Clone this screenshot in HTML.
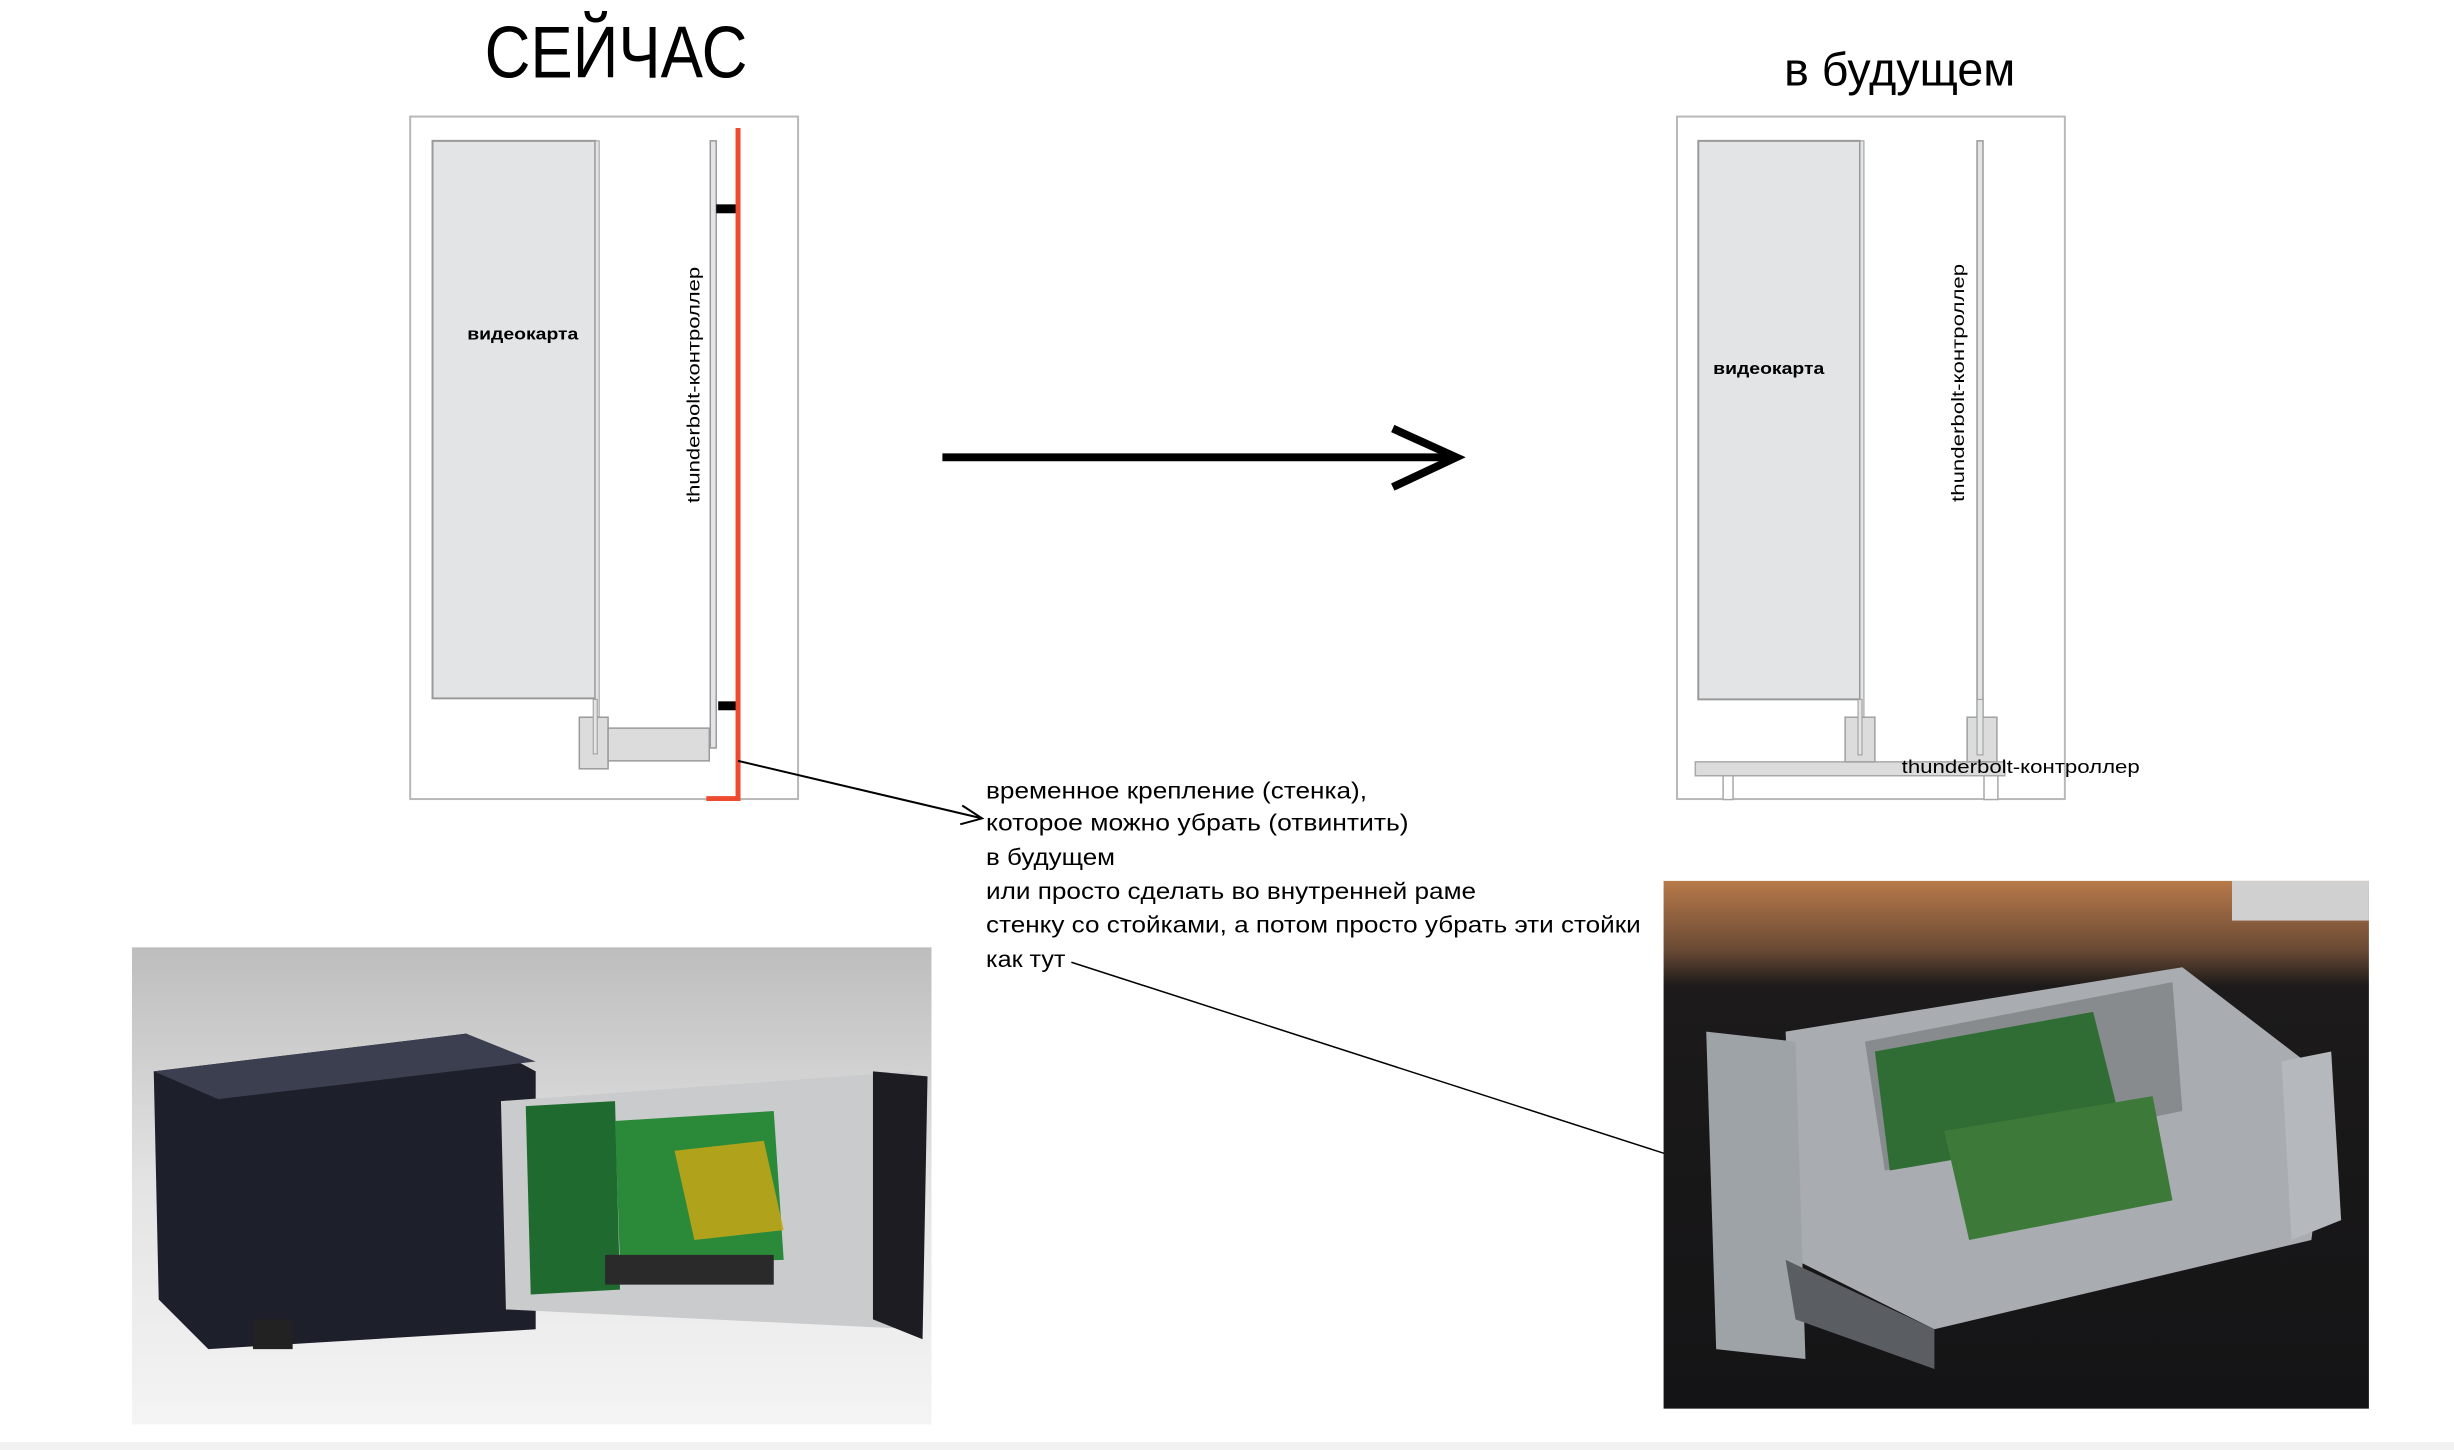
<!DOCTYPE html>
<html><head><meta charset="utf-8"><style>html,body{margin:0;padding:0;background:#fff}svg{display:block}</style></head>
<body>
<svg width="2454" height="1450" viewBox="0 0 2454 1450" xmlns="http://www.w3.org/2000/svg" font-family="'Liberation Sans','DejaVu Sans',sans-serif">
<defs>
<linearGradient id="lbg" x1="0" y1="0" x2="0" y2="1"><stop offset="0" stop-color="#bdbdbd"/><stop offset="0.5" stop-color="#e4e4e4"/><stop offset="1" stop-color="#f4f4f4"/></linearGradient>
<linearGradient id="rbg" x1="0" y1="0" x2="0" y2="1"><stop offset="0" stop-color="#b87a4a"/><stop offset="0.13" stop-color="#6a4a35"/><stop offset="0.2" stop-color="#1c1a1a"/><stop offset="1" stop-color="#141416"/></linearGradient>
</defs>
<rect x="0" y="1442" width="2454" height="8" fill="#f2f2f2"/>
<g transform="scale(0.992)">
<!-- LEFT DIAGRAM -->
<text x="621" y="78" font-size="74" text-anchor="middle" textLength="265" lengthAdjust="spacingAndGlyphs">СЕЙЧАС</text>
<rect x="413.5" y="117.5" width="391" height="688" fill="none" stroke="#b8b8b8" stroke-width="2"/>
<rect x="436" y="142" width="164" height="562" fill="#e3e4e6" stroke="#9a9a9a" stroke-width="2"/>
<rect x="600" y="142" width="4" height="615" fill="#e3e4e6" stroke="#9a9a9a" stroke-width="1"/>
<text x="527" y="342" font-size="17" text-anchor="middle" font-weight="bold" textLength="112" lengthAdjust="spacingAndGlyphs">видеокарта</text>
<rect x="716" y="142" width="6" height="612" fill="#e3e4e6" stroke="#9a9a9a" stroke-width="1.5"/>
<text transform="translate(705,388) rotate(-90)" font-size="18" text-anchor="middle" textLength="238" lengthAdjust="spacingAndGlyphs">thunderbolt-контроллер</text>
<rect x="722" y="206" width="21" height="9" fill="#000"/>
<rect x="724" y="707" width="19" height="9" fill="#000"/>
<rect x="584" y="723" width="29" height="52" fill="#dcdcdc" stroke="#9a9a9a" stroke-width="1.5"/>
<rect x="613" y="734" width="102" height="33" fill="#dcdcdc" stroke="#9a9a9a" stroke-width="1.5"/>
<rect x="598" y="705" width="4" height="55" fill="#e3e4e6" stroke="#9a9a9a" stroke-width="1"/>
<path d="M744 129 V805 H712" fill="none" stroke="#ee4a30" stroke-width="5"/>
<line x1="744" y1="767" x2="990" y2="825" stroke="#000" stroke-width="2"/>
<path d="M970 812 L990 825 L968 831" fill="none" stroke="#000" stroke-width="2"/>

<!-- BIG ARROW -->
<line x1="950" y1="461" x2="1466" y2="461" stroke="#000" stroke-width="8"/>
<path d="M1404 432 L1468 461 L1404 491" fill="none" stroke="#000" stroke-width="8"/>

<!-- RIGHT DIAGRAM -->
<text x="1915" y="86" font-size="48" text-anchor="middle" textLength="233" lengthAdjust="spacingAndGlyphs">в будущем</text>
<rect x="1690.5" y="117.5" width="391" height="688" fill="none" stroke="#b8b8b8" stroke-width="2"/>
<rect x="1712" y="142" width="163" height="563" fill="#e3e4e6" stroke="#9a9a9a" stroke-width="2"/>
<rect x="1875" y="142" width="4" height="612" fill="#e3e4e6" stroke="#9a9a9a" stroke-width="1"/>
<text x="1783" y="377" font-size="17" text-anchor="middle" font-weight="bold" textLength="112" lengthAdjust="spacingAndGlyphs">видеокарта</text>
<rect x="1993" y="142" width="6" height="612" fill="#e3e4e6" stroke="#9a9a9a" stroke-width="1.5"/>
<text transform="translate(1980,386) rotate(-90)" font-size="18" text-anchor="middle" textLength="240" lengthAdjust="spacingAndGlyphs">thunderbolt-контроллер</text>
<rect x="1709" y="768" width="312" height="14" fill="#dcdcdc" stroke="#a8a8a8" stroke-width="1.5"/>
<rect x="1860" y="723" width="30" height="45" fill="#dcdcdc" stroke="#a0a0a0" stroke-width="1.5"/>
<rect x="1983" y="723" width="30" height="45" fill="#dcdcdc" stroke="#a0a0a0" stroke-width="1.5"/>
<rect x="1873" y="705" width="4" height="56" fill="#e3e4e6" stroke="#9a9a9a" stroke-width="1"/>
<rect x="1993" y="705" width="6" height="56" fill="#e3e4e6" stroke="#9a9a9a" stroke-width="1"/>
<rect x="1737" y="782" width="10" height="24" fill="#fff" stroke="#a8a8a8" stroke-width="1.5"/>
<rect x="2000" y="782" width="14" height="24" fill="#fff" stroke="#a8a8a8" stroke-width="1.5"/>
<text x="1917" y="779" font-size="19" textLength="240" lengthAdjust="spacingAndGlyphs">thunderbolt-контроллер</text>

<!-- ANNOTATION -->
<g font-size="23">
<text x="994" y="805" textLength="384" lengthAdjust="spacingAndGlyphs">временное крепление (стенка),</text>
<text x="994" y="837" textLength="426" lengthAdjust="spacingAndGlyphs">которое можно убрать (отвинтить)</text>
<text x="994" y="872" textLength="130" lengthAdjust="spacingAndGlyphs">в будущем</text>
<text x="994" y="906" textLength="494" lengthAdjust="spacingAndGlyphs">или просто сделать во внутренней раме</text>
<text x="994" y="940" textLength="660" lengthAdjust="spacingAndGlyphs">стенку со стойками, а потом просто убрать эти стойки</text>
<text x="994" y="975" textLength="80" lengthAdjust="spacingAndGlyphs">как тут</text>
</g>
<line x1="1080" y1="970" x2="1815" y2="1207" stroke="#000" stroke-width="1.5"/>

<!-- LEFT PHOTO -->
<rect x="133" y="955" width="806" height="481" fill="url(#lbg)"/>
<path d="M155 1080 L470 1042 L540 1080 L540 1340 L210 1360 L160 1310 Z" fill="#1d1f2b"/>
<path d="M155 1080 L470 1042 L540 1070 L220 1108 Z" fill="#3c3f50"/>
<rect x="255" y="1330" width="40" height="30" fill="#222"/>
<path d="M505 1110 L920 1080 L925 1340 L510 1320 Z" fill="#c9cbcc"/>
<path d="M530 1115 L620 1110 L625 1300 L535 1305 Z" fill="#1f6b2f"/>
<path d="M620 1130 L780 1120 L790 1270 L625 1275 Z" fill="#2a8a3a"/>
<path d="M680 1160 L770 1150 L790 1240 L700 1250 Z" fill="#c9a616" opacity="0.85"/>
<rect x="610" y="1265" width="170" height="30" fill="#2a2a2a"/>
<path d="M880 1080 L935 1085 L930 1350 L880 1330 Z" fill="#1c1c22"/>

<!-- RIGHT PHOTO -->
<rect x="1677" y="888" width="711" height="532" fill="url(#rbg)"/>
<rect x="2250" y="888" width="138" height="40" fill="#d0d0d0"/>
<path d="M1800 1040 L2200 975 L2350 1090 L2330 1250 L1950 1340 L1810 1270 Z" fill="#a9adb2"/>
<path d="M1880 1050 L2190 990 L2200 1120 L1900 1180 Z" fill="#878b8e"/>
<path d="M1890 1060 L2110 1020 L2140 1140 L1905 1180 Z" fill="#2f6d35"/>
<path d="M1960 1140 L2170 1105 L2190 1210 L1985 1250 Z" fill="#3d7a3a"/>
<path d="M1720 1040 L1810 1050 L1820 1370 L1730 1360 Z" fill="#9ea3a8"/>
<path d="M2300 1070 L2350 1060 L2360 1230 L2310 1250 Z" fill="#b5b9bd"/>
<path d="M1800 1270 L1950 1340 L1950 1380 L1810 1330 Z" fill="#5a5e63"/>
</g>
</svg>
</body></html>
